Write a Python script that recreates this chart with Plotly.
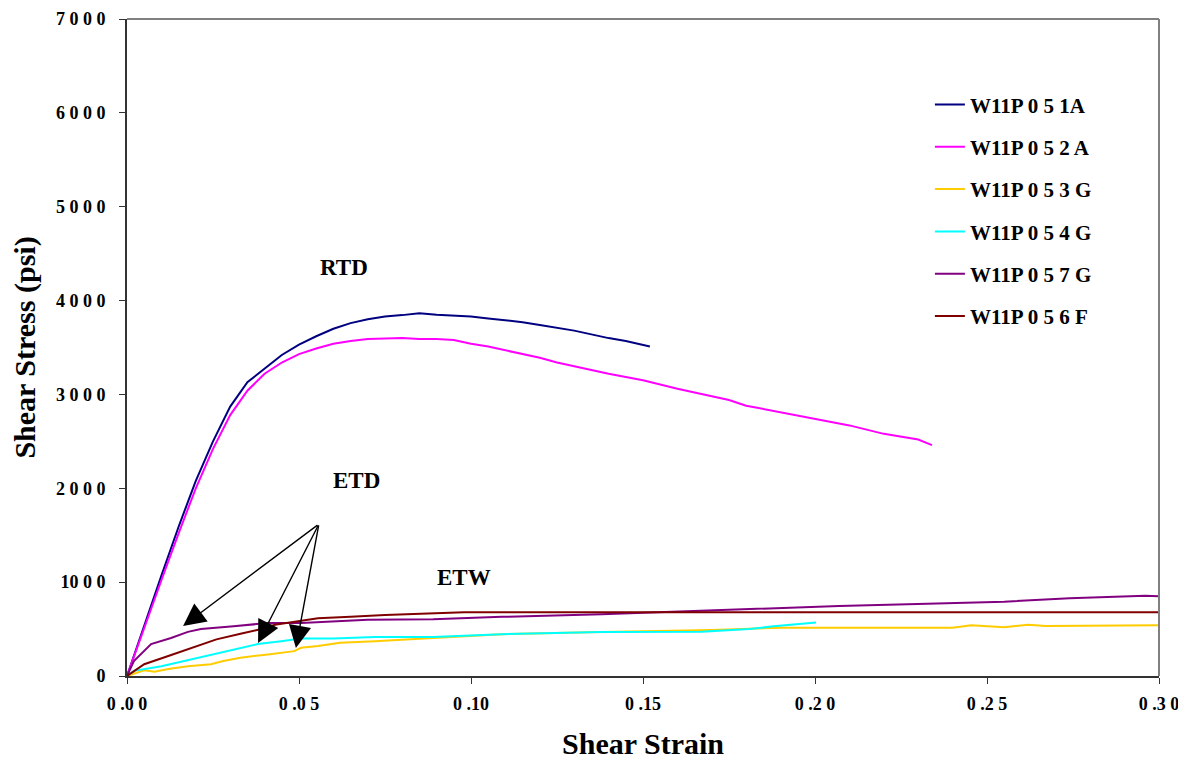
import plotly.graph_objects as go

# ---- data ----
strain_051A = [0, 0.005, 0.01, 0.015, 0.02, 0.025, 0.03, 0.035, 0.04, 0.045, 0.05, 0.055, 0.06, 0.065,
               0.07, 0.075, 0.08, 0.085, 0.09, 0.095, 0.10, 0.105, 0.11, 0.115, 0.12, 0.125, 0.13, 0.135,
               0.14, 0.145, 0.15, 0.152]
stress_051A = [0, 540, 1070, 1590, 2080, 2500, 2870, 3130, 3280, 3420, 3530, 3620, 3700, 3760,
               3800, 3830, 3845, 3865, 3850, 3840, 3830, 3810, 3790, 3770, 3740, 3710, 3680, 3640,
               3600, 3570, 3530, 3510]

strain_052A = [0, 0.005, 0.01, 0.015, 0.02, 0.025, 0.03, 0.035, 0.04, 0.045, 0.05, 0.055, 0.06, 0.065,
               0.07, 0.075, 0.08, 0.085, 0.09, 0.095, 0.10, 0.105, 0.11, 0.115, 0.12, 0.125, 0.13,
               0.14, 0.15, 0.16, 0.17, 0.175, 0.18, 0.19, 0.20, 0.21, 0.22, 0.23, 0.234]
stress_052A = [0, 520, 1020, 1520, 2000, 2420, 2780, 3040, 3220, 3340, 3430, 3490, 3540, 3570,
               3590, 3595, 3600, 3590, 3590, 3580, 3540, 3510, 3470, 3430, 3390, 3340, 3300,
               3220, 3150, 3060, 2980, 2940, 2880, 2810, 2740, 2670, 2580, 2520, 2460]

strain_053G = [0, 0.005, 0.008, 0.012, 0.0177, 0.0244, 0.028, 0.033, 0.041, 0.0486, 0.0506, 0.0555,
               0.062, 0.072, 0.089, 0.109, 0.138, 0.17, 0.19, 0.24, 0.2454, 0.255, 0.262, 0.267, 0.30]
stress_053G = [0, 60, 45, 75, 105, 125, 160, 195, 230, 265, 300, 320,
               355, 370, 405, 445, 470, 490, 515, 515, 540, 520, 545, 532, 540]

strain_054G = [0, 0.002, 0.01, 0.0166, 0.0244, 0.031, 0.038, 0.0448, 0.0506, 0.06, 0.072, 0.089,
               0.109, 0.138, 0.167, 0.181, 0.188, 0.2003]
stress_054G = [0, 55, 105, 160, 230, 285, 340, 370, 400, 400, 415, 415,
               445, 470, 472, 500, 530, 570]

strain_057G = [0, 0.002, 0.007, 0.0128, 0.0177, 0.0215, 0.031, 0.041, 0.0506, 0.06, 0.07, 0.089,
               0.109, 0.138, 0.164, 0.19, 0.207, 0.2326, 0.255, 0.274, 0.296, 0.30]
stress_057G = [0, 160, 340, 405, 470, 500, 530, 565, 565, 585, 600, 605,
               630, 657, 692, 721, 746, 770, 792, 828, 856, 850]

strain_056F = [0, 0.005, 0.012, 0.0177, 0.026, 0.033, 0.039, 0.043, 0.0506, 0.0555, 0.065, 0.075,
               0.098, 0.30]
stress_056F = [0, 125, 213, 285, 390, 450, 500, 545, 585, 615, 630, 650,
               680, 680]

series = [
    ("W11P 0 5 1A", strain_051A, stress_051A, "#000080"),
    ("W11P 0 5 2 A", strain_052A, stress_052A, "#FF00FF"),
    ("W11P 0 5 3 G", strain_053G, stress_053G, "#FFCC00"),
    ("W11P 0 5 4 G", strain_054G, stress_054G, "#00FFFF"),
    ("W11P 0 5 7 G", strain_057G, stress_057G, "#800080"),
    ("W11P 0 5 6 F", strain_056F, stress_056F, "#800000"),
]

x_tickvals = [0, 0.05, 0.10, 0.15, 0.20, 0.25, 0.30]
x_ticktext = ["0 .0 0", "0 .0 5", "0 .10", "0 .15", "0 .2 0", "0 .2 5", "0 .3 0"]
y_tickvals = [0, 1000, 2000, 3000, 4000, 5000, 6000, 7000]
y_ticktext = ["0", "10 0 0", "2 0 0 0", "3 0 0 0", "4 0 0 0", "5 0 0 0", "6 0 0 0", "7 0 0 0"]

# annotation anchors (data coords)
labels = [("RTD", 0.063, 4350), ("ETD", 0.0666, 2080), ("ETW", 0.098, 1045)]
arrow_tail = (0.0558, 1620)
arrow_heads = [(0.0163, 533), (0.0381, 352), (0.0491, 298)]

FONT = "Liberation Serif"

fig = go.Figure()
for i, (name, xs, ys, col) in enumerate(series):
    fig.add_trace(go.Scatter(x=xs, y=ys, mode="lines", name="<b>%s</b>" % name,
                             legendgroup=str(i),
                             line=dict(color=col, width=2)))

for txt, x, y in labels:
    fig.add_annotation(x=x, y=y, text="<b>%s</b>" % txt, showarrow=False,
                       font=dict(family=FONT, size=23, color="black"))

for hx, hy in arrow_heads:
    fig.add_annotation(x=hx, y=hy, ax=arrow_tail[0], ay=arrow_tail[1],
                       xref="x", yref="y", axref="x", ayref="y",
                       text="", showarrow=True, arrowhead=2, arrowsize=3.2,
                       arrowwidth=1.4, arrowcolor="black", standoff=0)

# grey top and right frame
fig.add_shape(type="line", xref="paper", yref="paper", x0=0, x1=1, y0=1, y1=1,
              line=dict(color="#808080", width=2))
fig.add_shape(type="line", xref="paper", yref="paper", x0=1, x1=1, y0=0, y1=1,
              line=dict(color="#808080", width=2))

fig.update_layout(
    width=1186, height=765,
    margin=dict(l=119, r=35, t=11, b=97, autoexpand=False),
    paper_bgcolor="white", plot_bgcolor="white",
    font=dict(family=FONT, color="black"),
    showlegend=True,
    legend=dict(x=0.778, y=0.9005, xanchor="left", yanchor="top",
                bgcolor="rgba(0,0,0,0)", tracegroupgap=12,
                font=dict(family=FONT, size=21, color="black")),
    xaxis=dict(range=[0, 0.30], tickvals=x_tickvals, ticktext=["<b>%s</b>" % t for t in x_ticktext],
               showgrid=False, zeroline=False, showline=True, linecolor="#333333", linewidth=2,
               ticks="outside", ticklen=6, tickcolor="#333333", ticklabelstandoff=4,
               automargin=False,
               tickfont=dict(family=FONT, size=18, color="black"),
               title=dict(text="<b>Shear Strain</b>", font=dict(family=FONT, size=30), standoff=20)),
    yaxis=dict(range=[0, 7000], tickvals=y_tickvals, ticktext=["<b>%s</b>" % t for t in y_ticktext],
               showgrid=False, zeroline=False, showline=True, linecolor="#333333", linewidth=2,
               ticks="outside", ticklen=6, tickcolor="#333333", ticklabelstandoff=10,
               automargin=False,
               tickfont=dict(family=FONT, size=18, color="black"),
               title=dict(text="<b>Shear Stress (psi)</b>", font=dict(family=FONT, size=30), standoff=14)),
)

fig.write_html("out.html")
